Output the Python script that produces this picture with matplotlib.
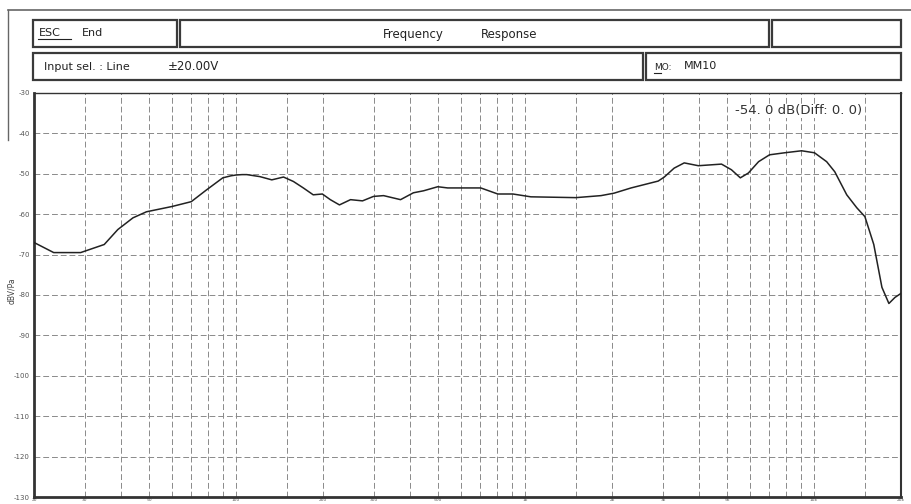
import matplotlib
matplotlib.use("Agg")
import matplotlib.pyplot as plt
from matplotlib.patches import Rectangle
from matplotlib.lines import Line2D

# frequency response (Hz, dBV/Pa)
freq = [20, 23.4, 29, 35, 39, 44, 49, 60, 70, 79, 90, 96, 100, 105, 109, 121,
        133, 146, 158, 171, 185, 199, 212, 228, 249, 274, 299, 324, 371, 411,
        446, 499, 540, 703, 805, 908, 1048, 1500, 1833, 2032, 2328, 2890, 3034,
        3281, 3556, 3980, 4786, 5180, 5560, 5930, 6430, 7016, 7907, 9060,
        10040, 11060, 11800, 12980, 14060, 15000, 16100, 17180, 18160, 19060,
        20000]
level = [-67.0, -69.5, -69.5, -67.5, -63.8, -60.9, -59.4, -58.1, -56.9, -54.0,
         -51.0, -50.5, -50.3, -50.2, -50.2, -50.7, -51.5, -50.8, -51.9, -53.5,
         -55.2, -55.0, -56.4, -57.7, -56.4, -56.7, -55.6, -55.4, -56.4, -54.7,
         -54.2, -53.2, -53.5, -53.5, -55.0, -55.0, -55.7, -55.9, -55.4, -54.8,
         -53.5, -51.8, -50.8, -48.6, -47.3, -48.0, -47.6, -49.0, -51.0, -49.8,
         -47.0, -45.3, -44.8, -44.3, -44.8, -47.0, -49.5, -55.2, -58.4, -60.6,
         -67.5, -78.1, -82.1, -80.6, -79.6]

grid_freqs = [30, 40, 50, 60, 70, 80, 90, 100, 150, 200, 300, 400, 500, 600,
              700, 800, 900, 1000, 1500, 2000, 3000, 4000, 5000, 6000, 7000,
              8000, 9000, 10000, 15000]
xtick_vals = [20, 30, 50, 100, 200, 300, 500, 1000, 2000, 3000, 5000, 10000, 20000]
xtick_labels = ["20", "30", "50", "100", "200", "300", "500", "1k", "2k", "3k",
                "5k", "10k", "20k"]
ytick_vals = list(range(-130, -29, 10))

W, H = 912, 504
fig = plt.figure(figsize=(W / 100, H / 100), dpi=100)
plt.rcParams['font.family'] = ['DejaVu Sans']

def fx(px):
    return px / W

def fy(py):
    return 1 - py / H

# plot area
ax = fig.add_axes([fx(34), fy(497), fx(901) - fx(34), fy(93) - fy(497)])
ax.set_xscale('log')
ax.set_xlim(20, 20000)
ax.set_ylim(-130, -30)

for g in grid_freqs:
    ax.axvline(g, color='#8a8a8a', lw=0.7, ls=(0, (6, 3)), zorder=1)
for v in ytick_vals[1:-1]:
    ax.axhline(v, color='#8a8a8a', lw=0.7, ls=(0, (6, 3)), zorder=1)

ax.plot(freq, level, color='#222222', lw=1.1, zorder=3)

ax.set_yticks(ytick_vals)
ax.set_yticklabels([str(v) for v in ytick_vals])
ax.set_xticks(xtick_vals)
ax.set_xticklabels(xtick_labels)
ax.minorticks_off()
ax.tick_params(axis='y', length=0, pad=3, labelsize=5, labelcolor='#555555')
ax.tick_params(axis='x', length=0, pad=0.5, labelsize=3.2, labelcolor='#555555')
ax.set_ylabel('dBV/Pa', fontsize=5.5, color='#444444')
ax.yaxis.set_label_coords(-0.021, 0.51)

ax.spines['left'].set_linewidth(2.0)
ax.spines['bottom'].set_linewidth(2.0)
ax.spines['right'].set_linewidth(1.5)
ax.spines['top'].set_linewidth(1.0)
for s in ax.spines.values():
    s.set_color('#333333')

ax.text(0.808, 0.972, '-54. 0 dB(Diff: 0. 0)', transform=ax.transAxes,
        fontsize=9.5, color='#333333', va='top', ha='left', zorder=4,
        bbox=dict(facecolor='white', edgecolor='none', pad=0.5))

# outer frame lines
fig.add_artist(Line2D([fx(8), fx(912)], [fy(10), fy(10)], color='#666666', lw=1.2))
fig.add_artist(Line2D([fx(8), fx(8)], [fy(10), fy(140)], color='#666666', lw=1.0))

# header boxes
boxes = [(33, 20, 177, 47), (180, 20, 769, 47), (772, 20, 901, 47),
         (33, 53, 643, 80), (646, 53, 901, 80)]
for x0, y0, x1, y1 in boxes:
    fig.add_artist(Rectangle((fx(x0), fy(y1)), fx(x1) - fx(x0), fy(y0) - fy(y1),
                             fill=False, edgecolor='#3a3a3a', lw=1.6))

tc = '#222222'
fig.text(fx(39), fy(33), 'ESC', fontsize=8, color=tc, va='center')
fig.add_artist(Line2D([fx(38), fx(71)], [fy(39), fy(39)], color=tc, lw=0.8))
fig.text(fx(82), fy(33), 'End', fontsize=8, color=tc, va='center')
fig.text(fx(383), fy(34.5), 'Frequency', fontsize=8.5, color=tc, va='center')
fig.text(fx(481), fy(34.5), 'Response', fontsize=8.5, color=tc, va='center')
fig.text(fx(44), fy(67), 'Input sel. : Line', fontsize=8, color=tc, va='center')
fig.text(fx(168), fy(66), '±20.00V', fontsize=8.5, color=tc, va='center')
fig.text(fx(654), fy(67), 'MO:', fontsize=6.5, color=tc, va='center')
fig.add_artist(Line2D([fx(654), fx(661)], [fy(73), fy(73)], color=tc, lw=0.8))
fig.text(fx(684), fy(66), 'MM10', fontsize=8, color=tc, va='center')

fig.savefig('out.png', dpi=100)
